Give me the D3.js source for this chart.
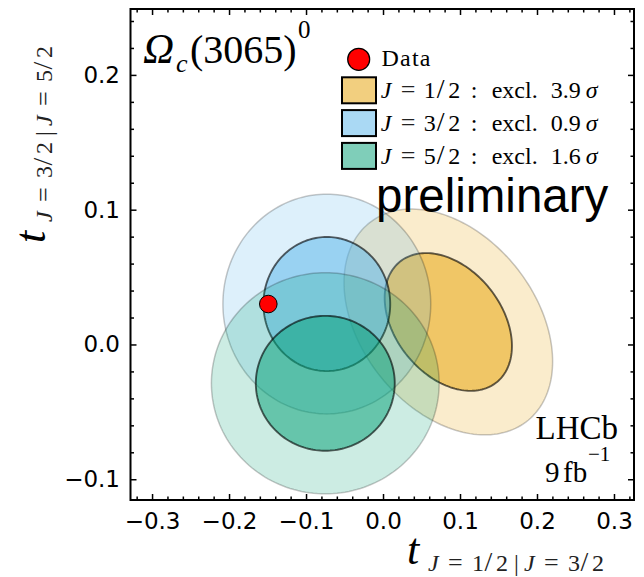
<!DOCTYPE html>
<html><head><meta charset="utf-8">
<script src="https://cdn.jsdelivr.net/npm/d3@7"></script>
<style>
html,body{margin:0;padding:0;background:#fff;}
svg{display:block;}
</style></head><body>
<svg id="chart" width="644" height="577"></svg>
<script>
// ---------------- data ----------------
const hypotheses = ["1/2", "3/2", "5/2"];
const exclusionSigma = ["3.9", "0.9", "1.6"];
const centerX = [0.0848, -0.073, -0.075];
const centerY = [0.0167, 0.030, -0.0288];
const sigmaX = [0.0545, 0.0543, 0.0595];
const sigmaY = [0.0337, 0.0328, 0.0330];
const rho = [-0.35, 0, 0];
const chi2Levels = [6.18, 2.30];          // outer (95%) then inner (68%)
const dataX = [-0.149];
const dataY = [0.030];
const xTicks = [-0.3, -0.2, -0.1, 0.0, 0.1, 0.2, 0.3];
const yTicks = [-0.1, 0.0, 0.1, 0.2];
const xDomain = [-0.328, 0.326];
const yDomain = [-0.1154, 0.2489];

// ---------------- styles ----------------
const colors = ["#E69F00", "#56B4E9", "#009E73"];
const serif = "'Liberation Serif', 'Times New Roman', serif";
const sans = "'DejaVu Sans', sans-serif";

const svg = d3.select("#chart");
const plot = {left: 130.5, right: 634, top: 9, bottom: 500};
const x = d3.scaleLinear().domain(xDomain).range([plot.left, plot.right]);
const y = d3.scaleLinear().domain(yDomain).range([plot.bottom, plot.top]);

svg.append("defs").append("clipPath").attr("id", "clip").append("rect")
  .attr("x", plot.left).attr("y", plot.top)
  .attr("width", plot.right - plot.left).attr("height", plot.bottom - plot.top);

const g = svg.append("g").attr("clip-path", "url(#clip)");
const line = d3.line().x(d => x(d[0])).y(d => y(d[1])).curve(d3.curveLinearClosed);

function ellipsePts(i, chi2) {
  const k = Math.sqrt(chi2);
  const s = Math.sqrt(1 - rho[i] * rho[i]);
  return d3.range(0, 360, 2).map(a => {
    const t = a * Math.PI / 180, u = Math.cos(t), v = Math.sin(t);
    return [centerX[i] + k * sigmaX[i] * u,
            centerY[i] + k * sigmaY[i] * (rho[i] * u + s * v)];
  });
}

hypotheses.forEach((h, i) => {
  chi2Levels.forEach((c, j) => {
    g.append("path").attr("d", line(ellipsePts(i, c)))
      .attr("fill", colors[i]).attr("fill-opacity", j === 0 ? 0.2 : 0.5)
      .attr("stroke", "#000").attr("stroke-opacity", j === 0 ? 0.22 : 0.62)
      .attr("stroke-width", j === 0 ? 1.5 : 1.9);
  });
});

g.selectAll("circle.pt").data(dataX).join("circle").attr("class", "pt")
  .attr("cx", d => x(d)).attr("cy", (d, i) => y(dataY[i])).attr("r", 8.8)
  .attr("fill", "#ff0000").attr("stroke", "#000").attr("stroke-width", 1);

// ---------------- axes ----------------
const xMinor = d3.range(-16, 17).filter(k => k % 5 !== 0).map(k => k * 0.02)
  .filter(v => v >= xDomain[0] && v <= xDomain[1]);
const yMinor = d3.range(-5, 13).filter(k => k % 5 !== 0).map(k => k * 0.02)
  .filter(v => v >= yDomain[0] && v <= yDomain[1]);
const fmt = d3.format(".1f");

function drawAxis(axis, tr) {
  const a = svg.append("g").attr("transform", tr).call(axis);
  a.select(".domain").remove();
  a.selectAll(".tick line").attr("stroke", "#000").attr("stroke-width", 1.5);
  a.selectAll("text").attr("font-family", sans).attr("font-size", 23).attr("fill", "#000");
  return a;
}
drawAxis(d3.axisBottom(x).tickValues(xTicks).tickSizeInner(-6).tickSizeOuter(0).tickPadding(12.5).tickFormat(fmt), `translate(0,${plot.bottom})`);
drawAxis(d3.axisBottom(x).tickValues(xMinor).tickSizeInner(-3.5).tickSizeOuter(0).tickFormat(""), `translate(0,${plot.bottom})`);
drawAxis(d3.axisTop(x).tickValues(xTicks).tickSizeInner(-6).tickSizeOuter(0).tickFormat(""), `translate(0,${plot.top})`);
drawAxis(d3.axisTop(x).tickValues(xMinor).tickSizeInner(-3.5).tickSizeOuter(0).tickFormat(""), `translate(0,${plot.top})`);
drawAxis(d3.axisLeft(y).tickValues(yTicks).tickSizeInner(-6).tickSizeOuter(0).tickPadding(10.5).tickFormat(fmt), `translate(${plot.left},0)`);
drawAxis(d3.axisLeft(y).tickValues(yMinor).tickSizeInner(-3.5).tickSizeOuter(0).tickFormat(""), `translate(${plot.left},0)`);
drawAxis(d3.axisRight(y).tickValues(yTicks).tickSizeInner(-6).tickSizeOuter(0).tickFormat(""), `translate(${plot.right},0)`);
drawAxis(d3.axisRight(y).tickValues(yMinor).tickSizeInner(-3.5).tickSizeOuter(0).tickFormat(""), `translate(${plot.right},0)`);

svg.append("rect").attr("x", plot.left).attr("y", plot.top)
  .attr("width", plot.right - plot.left).attr("height", plot.bottom - plot.top)
  .attr("fill", "none").attr("stroke", "#000").attr("stroke-width", 2);

// ---------------- text helpers ----------------
function pieces(parent, list, size, family) {
  const t = parent.append("text").attr("font-family", family || serif).attr("font-size", size).attr("fill", "#000");
  list.forEach(p => {
    const s = t.append("tspan").attr("x", p.x).attr("y", p.y).text(p.t);
    if (p.it) s.attr("font-style", "italic");
    if (p.size) s.attr("font-size", p.size);
    if (p.fill) s.attr("fill", p.fill);
  });
  return t;
}

// title
pieces(svg, [
  {t: "Ω", x: 143, y: 63, it: true, size: 43},
  {t: "c", x: 176, y: 72, it: true, size: 26},
  {t: "(3065)", x: 190, y: 63},
  {t: "0", x: 298, y: 38, size: 25}
], 40);

// axis labels: t with subscript
function subLabel(parent, a, b) {
  const sub = [
    {t: "J", r: 0, it: true}, {t: "=", r: 20, size: 26}, {t: a[0], r: 44}, {t: "/", r: 56.5, size: 28}, {t: a[1], r: 68},
    {t: "|", r: 86}, {t: "J", r: 96, it: true}, {t: "=", r: 116, size: 26}, {t: b[0], r: 140}, {t: "/", r: 152.5, size: 28}, {t: b[1], r: 164}
  ];
  const list = [{t: "t", x: 0, y: 0, it: true, size: 44}]
    .concat(sub.map(s => ({t: s.t, x: s.r + 21, y: 7, it: s.it, size: s.size, fill: "#222"})));
  return pieces(parent, list, 24);
}
subLabel(svg.append("g").attr("transform", "translate(407,564)"), ["1", "2"], ["3", "2"]);
subLabel(svg.append("g").attr("transform", "translate(45,243) rotate(-90)"), ["3", "2"], ["5", "2"]);

// legend
svg.append("circle").attr("cx", 358.7).attr("cy", 59.3).attr("r", 11)
  .attr("fill", "#ff0000").attr("stroke", "#000").attr("stroke-width", 1.2);
pieces(svg, [{t: "Data", x: 381.5, y: 66}], 24).attr("letter-spacing", 1.2);

hypotheses.forEach((h, i) => {
  const top = 77.3 + i * 32.8;
  svg.append("rect").attr("x", 342).attr("y", top).attr("width", 34).attr("height", 26)
    .attr("fill", colors[i]).attr("fill-opacity", 0.5)
    .attr("stroke", "#000").attr("stroke-width", 2);
  const bx = 380.7, by = 98.3 + i * 32.6;
  const parts = h.split("/");
  pieces(svg, [
    {t: "J", x: bx, y: by, it: true},
    {t: "=", x: bx + 20, y: by, size: 26, fill: "#222"},
    {t: parts[0], x: bx + 43, y: by},
    {t: "/", x: bx + 56, y: by, size: 28},
    {t: parts[1], x: bx + 67.5, y: by},
    {t: ":", x: bx + 90, y: by},
    {t: "excl.", x: bx + 111, y: by},
    {t: exclusionSigma[i], x: bx + 170, y: by},
    {t: "σ", x: bx + 205, y: by, it: true}
  ], 24);
});

// annotations
svg.append("text").attr("x", 376).attr("y", 212).attr("font-family", "'Liberation Sans', Arial, sans-serif")
  .attr("font-size", 47.5).attr("fill", "#000").text("preliminary");
svg.append("text").attr("x", 618).attr("y", 439).attr("text-anchor", "end")
  .attr("font-family", serif).attr("font-size", 33).attr("fill", "#000").text("LHCb");
pieces(svg, [
  {t: "9", x: 545, y: 482},
  {t: "fb", x: 563, y: 482},
  {t: "−1", x: 588, y: 461, size: 21}
], 29);
</script></body></html>
